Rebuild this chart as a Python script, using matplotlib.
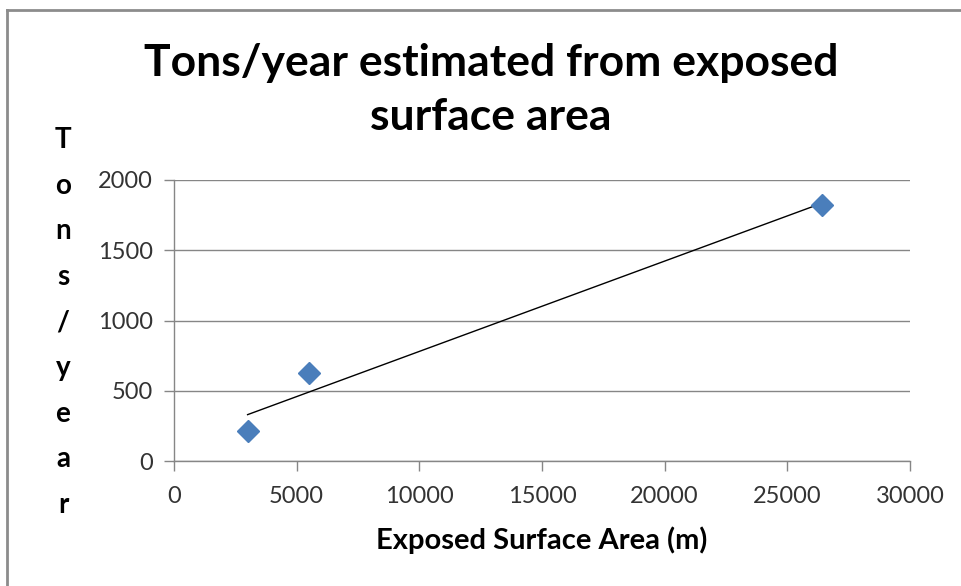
import numpy as np
import matplotlib
matplotlib.use("Agg")
import matplotlib.pyplot as plt
from matplotlib.lines import Line2D

area = [3000, 5500, 26400]
tons = [210, 625, 1820]
x_ticks = [0, 5000, 10000, 15000, 20000, 25000, 30000]
y_ticks = [0, 500, 1000, 1500, 2000]
title = "Tons/year estimated from exposed\nsurface area"
xlabel = "Exposed Surface Area (m)"
ylabel = "Tons/year"

FONT = "Lato"
fig = plt.figure(figsize=(9.62, 5.86), dpi=100)
ax = fig.add_axes([174/962, 1-461/586, (910-174)/962, (461-180)/586])

slope, intercept = np.polyfit(area, tons, 1)
xs = np.array([min(area), max(area)])
ax.plot(xs, slope*xs + intercept, color="black", lw=1.0, zorder=3)
ax.plot(area, tons, linestyle="none", marker="D", markersize=11,
        color="#4A7EBB", markeredgecolor="#4A7EBB", zorder=4)

ax.set_xlim(0, 30000)
ax.set_ylim(0, 2000)
ax.set_xticks(x_ticks)
ax.set_yticks(y_ticks)
ax.set_xticklabels([str(v) for v in x_ticks])
ax.set_yticklabels([str(v) for v in y_ticks])
gray = "#868686"
ax.grid(axis="y", color=gray, lw=1.0)
ax.set_axisbelow(True)
for s in ["top", "right"]:
    ax.spines[s].set_visible(False)
for s in ["left", "bottom"]:
    ax.spines[s].set_color(gray)
    ax.spines[s].set_linewidth(1.0)
ax.tick_params(axis="both", direction="out", length=7, width=1.0, color=gray,
               labelsize=17, labelcolor="#333333")
ax.tick_params(axis="y", pad=8)
ax.tick_params(axis="x", pad=11)
for lab in ax.get_xticklabels() + ax.get_yticklabels():
    lab.set_family(FONT)

fig.text(491/962, 1-90/586, title, ha="center", va="center", fontsize=32,
         fontweight="bold", family=FONT, linespacing=1.4)
fig.text(542/962, 1-540/586, xlabel, ha="center", va="center", fontsize=21,
         fontweight="bold", family=FONT)
y0, step = 140, 45.6
for i, ch in enumerate(ylabel):
    fig.text(63/962, 1-(y0+i*step)/586, ch, ha="center", va="center",
             fontsize=20, fontweight="bold", family=FONT)

# chart frame border (top and left visible)
fig.add_artist(Line2D([7/962, 7/962], [0, 1-10/586], transform=fig.transFigure,
                      color="#8c8c8c", lw=2))
fig.add_artist(Line2D([7/962, 1], [1-10/586, 1-10/586], transform=fig.transFigure,
                      color="#8c8c8c", lw=2))

fig.savefig("out.png", dpi=100)
